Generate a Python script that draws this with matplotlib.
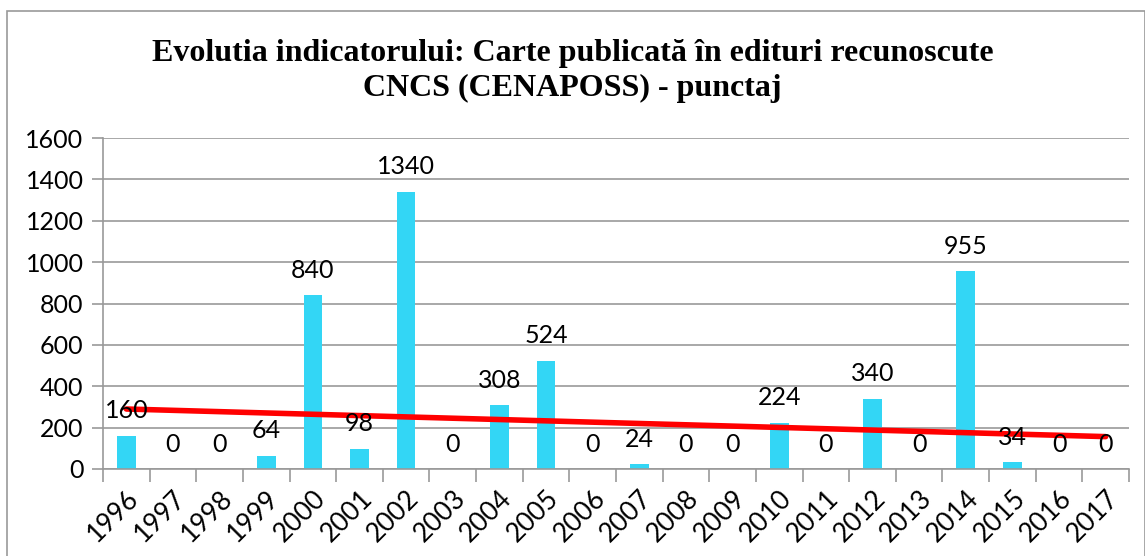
import numpy as np
import matplotlib
matplotlib.use("Agg")
import matplotlib.pyplot as plt
from matplotlib.patches import Rectangle

years = [str(y) for y in range(1996, 2018)]
values = [160, 0, 0, 64, 840, 98, 1340, 0, 308, 524, 0, 24, 0, 0, 224, 0, 340, 0, 955, 34, 0, 0]
title = "Evolutia indicatorului: Carte publicată în edituri recunoscute\nCNCS (CENAPOSS) - punctaj"

plt.rcParams["font.family"] = ["Lato", "DejaVu Sans"]

fig = plt.figure(figsize=(11.45, 5.56), dpi=100)
ax = fig.add_axes([103 / 1145, 1 - 469 / 556, (1129 - 103) / 1145, (469 - 138) / 556])

x = np.arange(len(values))
ax.bar(x, values, width=0.4, color="#33d6f5", zorder=2)

# linear trend line
k, b = np.polyfit(x, values, 1)
ax.plot(x, k * x + b, color="#ff0000", lw=4, solid_capstyle="round", zorder=3)

for xi, v in zip(x, values):
    ax.text(xi, v + 65, str(v), ha="center", va="bottom", fontsize=18, zorder=4)

ax.set_xlim(-0.5, len(values) - 0.5)
ax.set_ylim(0, 1600)
ax.set_yticks(range(0, 1601, 200))
ax.set_xticks(x)
ax.set_xticklabels(years, rotation=45, ha="right", rotation_mode="anchor", fontsize=19)
ax.set_xticks(np.arange(-0.5, len(values)), minor=True)
ax.tick_params(axis="x", which="major", length=0, pad=12)
ax.tick_params(axis="x", which="minor", length=9, color="#999999", width=1.2)
ax.tick_params(axis="y", length=8, color="#999999", width=1.2, labelsize=18, pad=6)
ax.grid(axis="y", color="#999999", lw=1.2, zorder=0)
ax.set_axisbelow(True)
for side in ["top", "right"]:
    ax.spines[side].set_visible(False)
for side in ["left", "bottom"]:
    ax.spines[side].set_color("#999999")
    ax.spines[side].set_linewidth(1.2)

fig.text(0.5, 1 - 71 / 556, title, ha="center", va="center", fontsize=23,
         fontweight="bold", family="Liberation Serif", linespacing=1.25)

fig.patches.append(Rectangle((7 / 1145, -0.01), 1138 / 1145, 1 - 11 / 556 + 0.01,
                             transform=fig.transFigure, fill=False,
                             edgecolor="#999999", lw=1.2))

fig.savefig("out.png", dpi=100)
